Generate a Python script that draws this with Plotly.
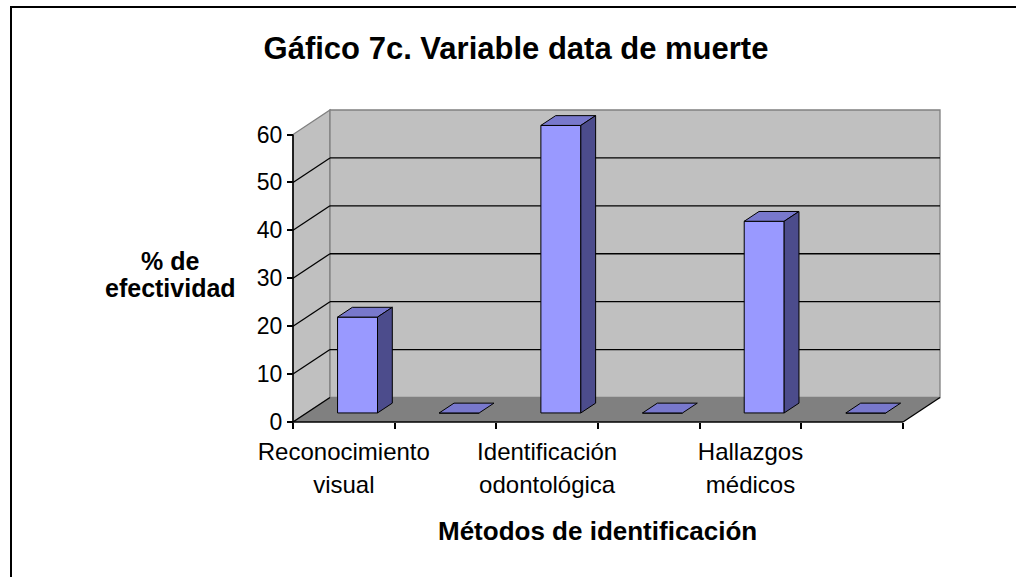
import plotly.graph_objects as go

# ---------------- data ----------------
categories = ["Reconocimiento<br>visual", "", "Identificación<br>odontológica", "", "Hallazgos<br>médicos", ""]
values = [20, 0, 60, 0, 40, 0]
y_ticks = [0, 10, 20, 30, 40, 50, 60]
title_text = "Gáfico 7c. Variable data de muerte"
y_title_lines = ["% de", "efectividad"]
x_title = "Métodos de identificación"

# ---------------- geometry ----------------
W, H = 1016, 577
ML, MR, MT, MB = 288, 72, 106, 150
pw = W - ML - MR
ph = H - MT - MB
n = len(values)
ytop = max(y_ticks)
px_cat = 101.667
px_unit = 4.7917
x0 = 0.5 - 5 / px_cat
x1 = x0 + pw / px_cat
y0 = -5 / px_unit
y1 = y0 + ph / px_unit
DX = 37 / px_cat      # depth of the 3D box (category units)
DY = 24.5 / px_unit   # depth of the 3D box (value units)
F = 0.37              # front of bars as fraction of depth
BD = 0.40             # bar depth as fraction of depth
BW = 0.393            # bar width (category units)

FONT = "Liberation Sans, Arial, sans-serif"
WALL = "#C0C0C0"
FLOOR = "#808080"
EDGE = "#808080"
FRONT = "#9999FF"
TOP = "#7878CC"
SIDE = "#4C4C8C"

xl_edge, xr_edge = 0.5, n + 0.5


def px2paper_x(px):
    return (px - ML) / pw


def px2paper_y(py):
    return (H - MB - py) / ph


shapes = []
# side wall
shapes.append(dict(type="path", xref="x", yref="y", layer="below",
                   path=f"M{xl_edge},0 L{xl_edge},{ytop} L{xl_edge+DX},{ytop+DY} L{xl_edge+DX},{DY} Z",
                   fillcolor=WALL, line=dict(color=EDGE, width=1.3)))
# back wall
shapes.append(dict(type="rect", xref="x", yref="y", layer="below",
                   x0=xl_edge + DX, x1=xr_edge + DX, y0=DY, y1=ytop + DY,
                   fillcolor=WALL, line=dict(color=EDGE, width=1.3)))
# floor
shapes.append(dict(type="path", xref="x", yref="y", layer="below",
                   path=f"M{xl_edge},0 L{xr_edge},0 L{xr_edge+DX},{DY} L{xl_edge+DX},{DY} Z",
                   fillcolor=FLOOR, line=dict(width=0)))
# gridlines on back and side walls
for v in y_ticks[:-1]:
    if v > 0:
        shapes.append(dict(type="line", xref="x", yref="y", layer="below",
                           x0=xl_edge + DX, x1=xr_edge + DX, y0=v + DY, y1=v + DY,
                           line=dict(color="black", width=1.3)))
    shapes.append(dict(type="line", xref="x", yref="y", layer="below",
                       x0=xl_edge, x1=xl_edge + DX, y0=v, y1=v + DY,
                       line=dict(color="black", width=1.3)))
# floor front & right edges, left front edge (axes lines)
shapes.append(dict(type="line", xref="x", yref="y", layer="below",
                   x0=xl_edge, x1=xr_edge, y0=0, y1=0, line=dict(color="black", width=1.6)))
shapes.append(dict(type="line", xref="x", yref="y", layer="below",
                   x0=xr_edge, x1=xr_edge + DX, y0=0, y1=DY, line=dict(color="black", width=1.3)))
shapes.append(dict(type="line", xref="x", yref="y", layer="below",
                   x0=xl_edge, x1=xl_edge, y0=0, y1=ytop, line=dict(color="black", width=1.6)))
# outer chart border (runs off the right and bottom of the picture)
shapes.append(dict(type="rect", xref="paper", yref="paper",
                   x0=px2paper_x(11), x1=px2paper_x(1030), y0=px2paper_y(600), y1=px2paper_y(7),
                   line=dict(color="black", width=2), fillcolor="rgba(0,0,0,0)"))

fig = go.Figure()

xs = [i + 1 + F * DX for i in range(n)]
fig.add_trace(go.Bar(x=xs, y=values, base=F * DY, width=BW,
                     marker=dict(color=FRONT, line=dict(color="black", width=1)),
                     showlegend=False, hoverinfo="skip"))

for i, v in enumerate(values):
    xl = xs[i] - BW / 2
    xr = xs[i] + BW / 2
    top = v + F * DY
    fig.add_trace(go.Scatter(
        x=[xl, xr, xr + BD * DX, xl + BD * DX, xl],
        y=[top, top, top + BD * DY, top + BD * DY, top],
        mode="lines", fill="toself", fillcolor=TOP,
        line=dict(color="black", width=1), showlegend=False, hoverinfo="skip"))
    if v > 0:
        fig.add_trace(go.Scatter(
            x=[xr, xr + BD * DX, xr + BD * DX, xr, xr],
            y=[F * DY, (F + BD) * DY, v + (F + BD) * DY, top, F * DY],
            mode="lines", fill="toself", fillcolor=SIDE,
            line=dict(color="black", width=1), showlegend=False, hoverinfo="skip"))

# invisible traces to activate the label axes
for ax in ("x2", "x3"):
    fig.add_trace(go.Scatter(x=[1], y=[0], xaxis=ax, mode="markers",
                             marker=dict(opacity=0), showlegend=False, hoverinfo="skip"))

label_vals = [i + 1 for i, c in enumerate(categories) if c]
line1 = [c.split("<br>")[0] for c in categories if c]
line2 = [c.split("<br>")[1] if "<br>" in c else "" for c in categories if c]

label_axis = dict(range=[x0, x1], overlaying="x", tickvals=label_vals,
                  ticks="", showgrid=False, zeroline=False, showline=False,
                  anchor="free", position=5 / ph, side="bottom",
                  tickfont=dict(family=FONT, size=24, color="black"))

fig.update_layout(
    width=W, height=H,
    margin=dict(l=ML, r=MR, t=MT, b=MB, autoexpand=False),
    paper_bgcolor="white", plot_bgcolor="white",
    font=dict(family=FONT, color="black"),
    shapes=shapes,
    showlegend=False,
    title=dict(text=f"<b>{title_text}</b>", x=516 / W, xref="container",
               xanchor="center", y=1 - 48 / H, yanchor="middle",
               font=dict(family=FONT, size=31, color="black")),
    xaxis=dict(range=[x0, x1], tickvals=[k + 0.5 for k in range(n + 1)],
               ticktext=[""] * (n + 1), ticks="outside", ticklen=6, tickcolor="black",
               tickwidth=1.5, showgrid=False, zeroline=False, showline=False,
               anchor="free", position=5 / ph, fixedrange=True),
    xaxis2=dict(label_axis, ticktext=line1, ticklabelstandoff=13),
    xaxis3=dict(label_axis, ticktext=line2, ticklabelstandoff=46),
    yaxis=dict(range=[y0, y1], tickvals=y_ticks, ticks="outside", ticklen=6,
               tickcolor="black", tickwidth=1.5, showgrid=False, zeroline=False,
               showline=False, anchor="free", position=5 / pw,
               tickfont=dict(family=FONT, size=23, color="black")),
    annotations=[
        dict(text=f"<b>{y_title_lines[0]}</b>", xref="paper", yref="paper",
             x=px2paper_x(170), y=px2paper_y(261), showarrow=False,
             xanchor="center", yanchor="middle",
             font=dict(family=FONT, size=25, color="black")),
        dict(text=f"<b>{y_title_lines[1]}</b>", xref="paper", yref="paper",
             x=px2paper_x(170), y=px2paper_y(288), showarrow=False,
             xanchor="center", yanchor="middle",
             font=dict(family=FONT, size=25, color="black")),
        dict(text=f"<b>{x_title}</b>", xref="paper", yref="paper",
             x=px2paper_x(597), y=px2paper_y(531), showarrow=False,
             xanchor="center", yanchor="middle",
             font=dict(family=FONT, size=26, color="black")),
    ],
)

fig.write_html("out.html", config={"displayModeBar": False},
               post_script="document.body.style.margin='0px';")
